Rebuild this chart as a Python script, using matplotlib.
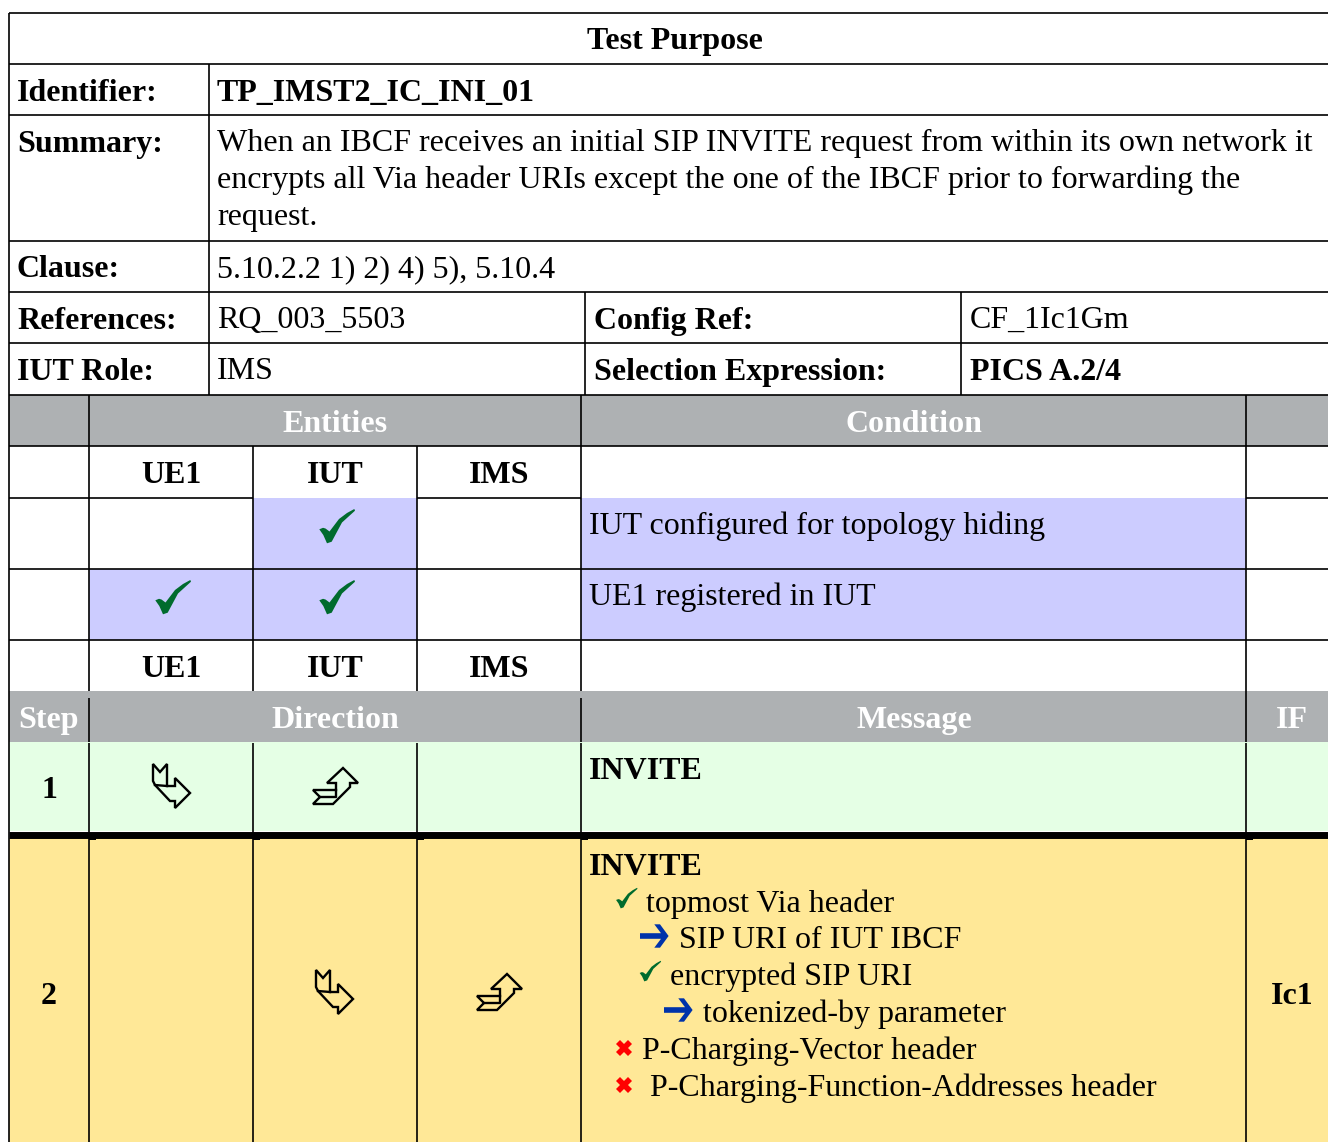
import matplotlib
matplotlib.use("Agg")
from matplotlib import pyplot as plt
from matplotlib.patches import Rectangle, Polygon

W, H = 1328, 1142
GREY = "#aeb1b3"
LAV = "#ccccff"
GREEN = "#e5ffe5"
YELLOW = "#ffe897"
CHECK = "#006b2d"
ARROW = "#0033aa"
RED = "#ff0000"

entities = ["UE1", "IUT", "IMS"]
conditions = ["IUT configured for topology hiding", "UE1 registered in IUT"]
summary = ["When an IBCF receives an initial SIP INVITE request from within its own network it",
           "encrypts all Via header URIs except the one of the IBCF prior to forwarding the",
           "request."]
message_lines = ["topmost Via header", "SIP URI of IUT IBCF", "encrypted SIP URI",
                 "tokenized-by parameter", "P-Charging-Vector header",
                 "P-Charging-Function-Addresses header"]

fig = plt.figure(figsize=(W / 100, H / 100), dpi=100)
ax = fig.add_axes([0, 0, 1, 1])
ax.set_xlim(0, W)
ax.set_ylim(H, 0)
ax.axis("off")

FS = 23.0
LW = 1.2


def txt(x, y, s, bold=False, color="black", ha="left", size=FS):
    ax.text(x, y, s, family="Liberation Serif", fontweight="bold" if bold else "normal",
            color=color, ha=ha, va="baseline", fontsize=size, zorder=5)


def fill(x0, y0, x1, y1, c, z=0):
    ax.add_patch(Rectangle((x0, y0), x1 - x0, y1 - y0, fc=c, ec="none", zorder=z))


def hline(y, x0=9, x1=W, lw=LW):
    ax.plot([x0, x1], [y, y], color="black", lw=lw, solid_capstyle="butt", zorder=3)


def vline(x, y0, y1, lw=LW):
    ax.plot([x, x], [y0, y1], color="black", lw=lw, solid_capstyle="butt", zorder=3)


def shape(cx, cy, pts, color, scale=1.0):
    ax.add_patch(Polygon([(cx + a * scale, cy + b * scale) for a, b in pts], closed=True,
                         fc=color, ec="none", zorder=4))


# symbol outlines, relative to their own centre
TICK = [(-17.7, 3.3), (-14, 1.8), (-11.5, 2.5), (-7.5, 5.5), (2, -7), (10, -13), (17.3, -17), (18, -15.3),
        (5, -3.5), (-5.3, 15.7), (-10, 17.3), (-13.7, 9)]
HEAVY = [(-14.3, -2.8), (6.7, -2.8), (0, -11.7), (5.7, -11.7), (14.3, 0), (5.7, 11.7), (0, 11.7),
         (6.7, 2.8), (-14.3, 2.8)]


def outline(cx, cy, pts, inner):
    ax.add_patch(Polygon([(cx + a, cy + b) for a, b in pts], closed=True, fc="none", ec="black",
                         lw=1.7, joinstyle="miter", zorder=4))
    ax.plot([cx + a for a, b in inner], [cy + b for a, b in inner], color="black", lw=1.7, zorder=4)


# double bent arrows (wingdings style)
def arrow_right(cx, cy):
    outline(cx, cy, [(-19, -23), (-12, -15), (-5, -23), (-5, -1), (3, -1), (3, -9), (18, 6), (3, 21),
                     (3, 14), (-2, 14), (-17, -2), (-19, -6)],
            [(-17, -2), (-5, -1)])


def arrow_up(cx, cy):
    outline(cx, cy, [(-22, 3), (1, 3), (1, -4), (-8, -4), (8, -19), (23, -4), (15, -4), (15, 0),
                     (-2, 17), (-22, 17), (-15, 10)],
            [(-15, 10), (1, 10), (1, 3)])


# backgrounds
fill(9, 395, W, 446, GREY)
fill(9, 691, W, 742, GREY)
fill(253, 498, 417, 640, LAV)
fill(89, 569, 253, 640, LAV)
fill(581, 498, 1246, 640, LAV)
fill(9, 742, W, 831, GREEN)
fill(9, 838, W, H, YELLOW)

# grid lines
for y in [13, 64, 115, 241, 292, 343, 395, 446, 569, 640]:
    hline(y)
hline(498, 9, 253)
hline(498, 417, 581)
hline(498, 1246, W)
hline(834.5, lw=5.0)
vline(9, 13, H)
vline(209, 64, 395)
vline(585, 292, 395)
vline(961, 292, 395)
vline(89, 395, 691)
vline(89, 698, 742)
vline(581, 395, 691)
vline(581, 698, 742)
vline(1246, 395, 742)
for x in [253, 417]:
    vline(x, 446, 691)
for x in [89, 253, 417, 581, 1246]:
    vline(x, 743, H)
    fill(x, 838, x + 7, 839.5, "black", z=3)

# top block
txt(675, 49, "Test Purpose", bold=True, ha="center")
txt(17, 101, "Identifier:", bold=True)
txt(217, 101, "TP_IMST2_IC_INI_01", bold=True)
txt(17, 152, "Summary:", bold=True)
for i, line in enumerate(summary):
    txt(217, 151 + i * 37, line)
txt(17, 277, "Clause:", bold=True)
txt(217, 277, "5.10.2.2 1) 2) 4) 5), 5.10.4")
txt(17, 329, "References:", bold=True)
txt(217, 328, "RQ_003_5503")
txt(594, 329, "Config Ref:", bold=True)
txt(970, 328, "CF_1Ic1Gm")
txt(17, 380, "IUT Role:", bold=True)
txt(217, 379, "IMS")
txt(594, 380, "Selection Expression:", bold=True)
txt(970, 380, "PICS A.2/4", bold=True)

# grey headers
txt(335, 432, "Entities", bold=True, color="white", ha="center")
txt(914, 432, "Condition", bold=True, color="white", ha="center")
txt(49, 728, "Step", bold=True, color="white", ha="center")
txt(335, 728, "Direction", bold=True, color="white", ha="center")
txt(914, 728, "Message", bold=True, color="white", ha="center")
txt(1292, 728, "IF", bold=True, color="white", ha="center")

centres = [171, 335, 499]
for c, name in zip(centres, entities):
    txt(c, 483, name, bold=True, ha="center")
    txt(c, 677, name, bold=True, ha="center")

# preconditions
for row_y, cond in zip([534, 605], conditions):
    txt(589, row_y, cond)
shape(337, 526, TICK, CHECK)
shape(173, 597, TICK, CHECK)
shape(337, 597, TICK, CHECK)

# step 1
txt(49, 798, "1", bold=True, ha="center")
arrow_right(172, 787)
arrow_up(335, 787)
txt(589, 779, "INVITE", bold=True)

# step 2
txt(49, 1004, "2", bold=True, ha="center")
arrow_right(335, 993)
arrow_up(499, 993)
txt(589, 875, "INVITE", bold=True)
txt(1292, 1004, "Ic1", bold=True, ha="center")
msg_x = [646, 679, 670, 703, 642, 650]
msg_y = [912, 948, 985, 1022, 1059, 1096]
for x, y, line in zip(msg_x, msg_y, message_lines):
    txt(x, y, line)
shape(626.7, 898, TICK, CHECK, 0.6)
shape(650.3, 971, TICK, CHECK, 0.6)
shape(654.3, 936, HEAVY, ARROW)
shape(678.3, 1010, HEAVY, ARROW)
ax.plot([624, 624], [1047.5, 1085], ls="none", marker="X", ms=12, color=RED, mew=0, zorder=4)

fig.savefig("out.png", dpi=100)
